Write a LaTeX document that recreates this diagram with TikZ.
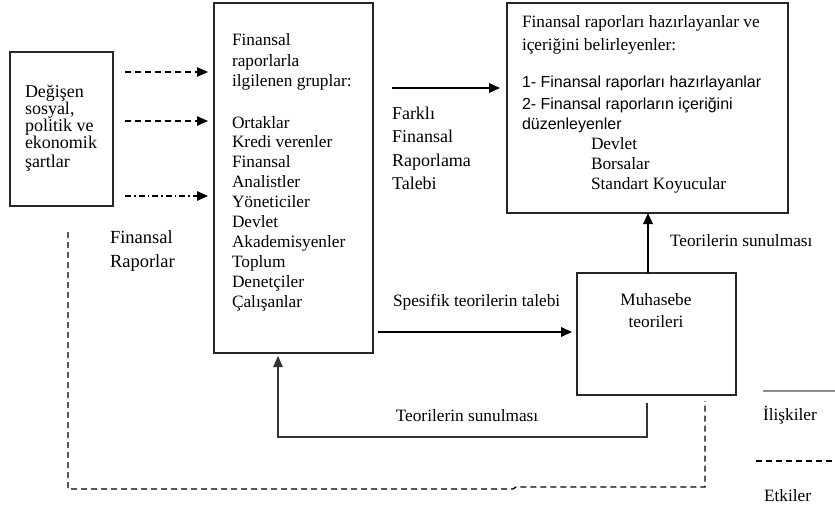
\documentclass[tikz,border=0pt]{standalone}
\usepackage{fontspec}
\setmainfont{Liberation Serif}
\newfontfamily\sansf{Liberation Sans}
\newcommand\mysf{\sansf\fontsize{16}{20}\selectfont}
\usetikzlibrary{arrows.meta}
\begin{document}
\begin{tikzpicture}[x=1pt,y=-1pt,
  box/.style={draw=black!85, line width=1.1pt, inner sep=0pt, outer sep=0pt, anchor=north west},
  txt/.style={inner sep=0pt, outer sep=0pt, align=left, anchor=north west},
  lbl/.style={inner sep=0pt, outer sep=0pt, anchor=base west, font=\fontsize{17.3}{20}\selectfont},
  tip/.style={-{Triangle[length=11pt,width=9.5pt]}},
  arr/.style={line width=1.7pt, tip},
  thin/.style={line width=1.2pt, draw=black!80},
  dasharr/.style={line width=1.3pt, dash pattern=on 6pt off 4pt, tip},
  dotarr/.style={line width=1.3pt, dash pattern=on 6pt off 3pt on 1.5pt off 3pt, tip},
  dashline/.style={line width=1.3pt, dash pattern=on 6pt off 4pt},
  relline/.style={line width=2pt, draw=black!45}
]
\useasboundingbox (0,0) rectangle (835,505);

% boxes
\node[box, minimum width=103pt, minimum height=154pt] (left) at (10,52) {};
\node[box, minimum width=159pt, minimum height=350pt] (mid) at (214,3) {};
\node[box, minimum width=281pt, minimum height=210pt] (prep) at (507,3) {};
\node[box, minimum width=159pt, minimum height=122pt] (muh) at (577,273) {};

% box texts
\node[txt, font=\fontsize{18}{17}\selectfont] (lefttxt) at (25,85.5)
  {Değişen\\sosyal,\\politik ve\\ekonomik\\[2pt]şartlar};
\node[txt, font=\fontsize{17.3}{19.9}\selectfont] (midtxt) at (232,33.3)
  {Finansal\\[1pt]raporlarla\\ilgilenen gruplar:\\[22pt]Ortaklar\\Kredi verenler\\Finansal\\Analistler\\Yöneticiler\\Devlet\\Akademisyenler\\Toplum\\Denetçiler\\Çalışanlar};
\node[txt, font=\fontsize{17.3}{20}\selectfont] (preptxt) at (522,15.3)
  {Finansal raporları hazırlayanlar ve\\[3pt]içeriğini belirleyenler:\\[17pt]{\mysf 1- Finansal raporları hazırlayanlar}\\[2pt]{\mysf 2- Finansal raporların içeriğini}\\{\mysf düzenleyenler}\\\hspace*{69pt}Devlet\\\hspace*{69pt}Borsalar\\\hspace*{69pt}Standart Koyucular};
\node[inner sep=0pt, align=center, anchor=north, font=\fontsize{17.3}{22}\selectfont] (muhtxt) at (656,293.3)
  {Muhasebe\\teorileri};

% free labels
\node[txt, font=\fontsize{18}{23.3}\selectfont] (farkli) at (392,107)
  {Farklı\\Finansal\\Raporlama\\Talebi};
\node[txt, font=\fontsize{18.5}{24}\selectfont] (finrap) at (110,231)
  {Finansal\\Raporlar};
\node[lbl] (spes) at (393,306.5) {Spesifik teorilerin talebi};
\node[lbl] (sun1) at (670,247) {Teorilerin sunulması};
\node[lbl, anchor=base] (sun2) at (467,421.5) {Teorilerin sunulması};

% connectors from left box to middle box
\draw[dasharr, shorten <=12pt, shorten >=6pt] (left.east |- 0,72) -- (mid.west |- 0,72);
\draw[dasharr, shorten <=12pt, shorten >=6pt] (left.east |- 0,121) -- (mid.west |- 0,121);
\draw[dotarr, shorten <=12pt, shorten >=6pt] (left.east |- 0,196) -- (mid.west |- 0,196);

% middle -> preparers
\draw[arr, shorten <=19pt, shorten >=7pt] (mid.east |- 0,88) -- (prep.west |- 0,88);
% middle -> theories
\draw[arr, shorten <=5pt, shorten >=5pt] (mid.east |- 0,332) -- (muh.west |- 0,332);
% theories -> preparers
\draw[arr] (muh.north -| 648,0) -- (prep.south -| 648,0);
% theories -> middle (bottom bracket)
\draw[thin, tip, shorten <=8pt, shorten >=3pt] (muh.south -| 647,0) -- (647,437) -- (278,437) -- (mid.south -| 278,0);

% influence (dashed) line
\coordinate (dstart) at (68,232);
\draw[dashline, shorten >=6pt] (dstart) -- (68,489) -- (513,489) -- (516,487) -- (705,487) -- (muh.south -| 705,0);

% legend
\coordinate (l1a) at (763,391);
\coordinate (l1b) at (835,391);
\draw[relline] (l1a) -- (l1b);
\node[lbl] (ilis) at (763,420) {İlişkiler};
\coordinate (l2a) at (756,461);
\coordinate (l2b) at (835,461);
\draw[dashline] (l2a) -- (l2b);
\node[lbl] (etk) at (764,501) {Etkiler};
\end{tikzpicture}
\end{document}
